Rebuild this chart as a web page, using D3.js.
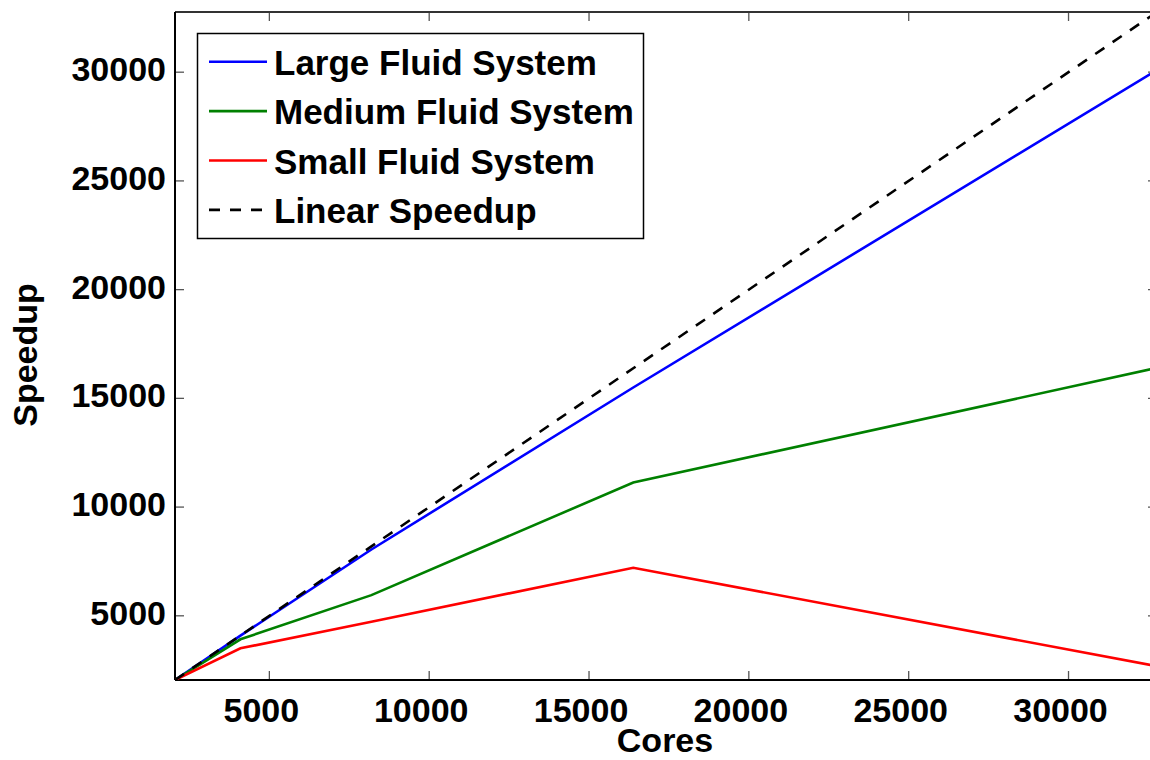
<!DOCTYPE html>
<html>
<head>
<meta charset="utf-8">
<script src="https://cdn.jsdelivr.net/npm/d3@7"></script>
<style>
  html, body { margin: 0; padding: 0; background: #fff; }
  svg { display: block; font-family: "Liberation Sans", Arial, Helvetica, sans-serif; font-weight: bold; }
</style>
</head>
<body>
<svg id="chart" width="1150" height="760"></svg>
<script>
// Core counts used in the strong-scaling runs
const cores = [2048, 4096, 8192, 16384, 32768];

// Measured speedup per fluid system size
const largeSpeedup  = [2048, 4090, 8050, 15500, 30100];
const mediumSpeedup = [2048, 3920, 5950, 11130, 16400];
const smallSpeedup  = [2048, 3505, 4730, 7210, 2680];
// Ideal scaling reference
const linearSpeedup = [2048, 4096, 8192, 16384, 32768];

const seriesNames  = ["Large Fluid System", "Medium Fluid System", "Small Fluid System", "Linear Speedup"];
const seriesColors = ["#0000ff", "#008000", "#ff0000", "#000000"];
const seriesDash   = [null, null, null, "11,10"];
const seriesValues = [largeSpeedup, mediumSpeedup, smallSpeedup, linearSpeedup];

const xTicks = [5000, 10000, 15000, 20000, 25000, 30000];
const yTicks = [5000, 10000, 15000, 20000, 25000, 30000];

const xLabel = "Cores";
const yLabel = "Speedup";

const svg = d3.select("#chart");
const plot = { left: 175, right: 1157, top: 12, bottom: 680 };

const x = d3.scaleLinear().domain([2048, 32768]).range([plot.left, plot.right]);
const y = d3.scaleLinear().domain([2048, 32768]).range([plot.bottom, plot.top]);

svg.append("defs").append("clipPath").attr("id", "plot-clip")
  .append("rect")
  .attr("x", plot.left).attr("y", plot.top)
  .attr("width", plot.right - plot.left).attr("height", plot.bottom - plot.top);

// Inward-facing tick marks on all four sides
const tickLen = 9;
const tickColor = "#555";
const ticks = svg.append("g").attr("stroke", tickColor).attr("stroke-width", 1.3);
xTicks.forEach(v => {
  ticks.append("line").attr("x1", x(v)).attr("x2", x(v)).attr("y1", plot.bottom).attr("y2", plot.bottom - tickLen);
  ticks.append("line").attr("x1", x(v)).attr("x2", x(v)).attr("y1", plot.top).attr("y2", plot.top + tickLen);
});
yTicks.forEach(v => {
  ticks.append("line").attr("x1", plot.left).attr("x2", plot.left + tickLen).attr("y1", y(v)).attr("y2", y(v));
  ticks.append("line").attr("x1", plot.right).attr("x2", plot.right - tickLen).attr("y1", y(v)).attr("y2", y(v));
});

// Frame
svg.append("line").attr("x1", plot.left).attr("x2", plot.right).attr("y1", plot.top).attr("y2", plot.top)
  .attr("stroke", "#333").attr("stroke-width", 2);
svg.append("line").attr("x1", plot.right).attr("x2", plot.right).attr("y1", plot.top).attr("y2", plot.bottom)
  .attr("stroke", "#333").attr("stroke-width", 2);
svg.append("line").attr("x1", plot.left).attr("x2", plot.right).attr("y1", plot.bottom).attr("y2", plot.bottom)
  .attr("stroke", "#000").attr("stroke-width", 2);
svg.append("line").attr("x1", plot.left).attr("x2", plot.left).attr("y1", plot.top).attr("y2", plot.bottom)
  .attr("stroke", "#000").attr("stroke-width", 2);

// Tick labels
svg.append("g").selectAll("text").data(xTicks).join("text")
  .attr("x", d => x(d) - 8).attr("y", 722)
  .attr("text-anchor", "middle").attr("font-size", 34).attr("fill", "#000")
  .text(d => d);
svg.append("g").selectAll("text").data(yTicks).join("text")
  .attr("x", 166).attr("y", d => y(d) + 9)
  .attr("text-anchor", "end").attr("font-size", 34).attr("fill", "#000")
  .text(d => d);

// Axis titles
svg.append("text").attr("x", 665).attr("y", 752)
  .attr("text-anchor", "middle").attr("font-size", 34).text(xLabel);
svg.append("text").attr("transform", "translate(37,355) rotate(-90)")
  .attr("text-anchor", "middle").attr("font-size", 34).text(yLabel);

// Series lines
const line = d3.line().x((d, i) => x(cores[i])).y(d => y(d));
const lines = svg.append("g").attr("clip-path", "url(#plot-clip)");
seriesValues.forEach((vals, i) => {
  lines.append("path").datum(vals)
    .attr("d", line)
    .attr("fill", "none")
    .attr("stroke", seriesColors[i])
    .attr("stroke-width", 2.6)
    .attr("stroke-dasharray", seriesDash[i]);
});

// Legend
const legend = svg.append("g");
legend.append("rect").attr("x", 197.5).attr("y", 33.5).attr("width", 446).attr("height", 205)
  .attr("fill", "#fff").attr("stroke", "#000").attr("stroke-width", 1.5);
seriesNames.forEach((name, i) => {
  const ry = 61.7 + i * 49.4;
  legend.append("line").attr("x1", 209).attr("x2", 267).attr("y1", ry).attr("y2", ry)
    .attr("stroke", seriesColors[i]).attr("stroke-width", 2.6)
    .attr("stroke-dasharray", seriesDash[i]);
  legend.append("text").attr("x", 274).attr("y", ry + 13)
    .attr("font-size", 35).attr("fill", "#000").text(name);
});
</script>
</body>
</html>
